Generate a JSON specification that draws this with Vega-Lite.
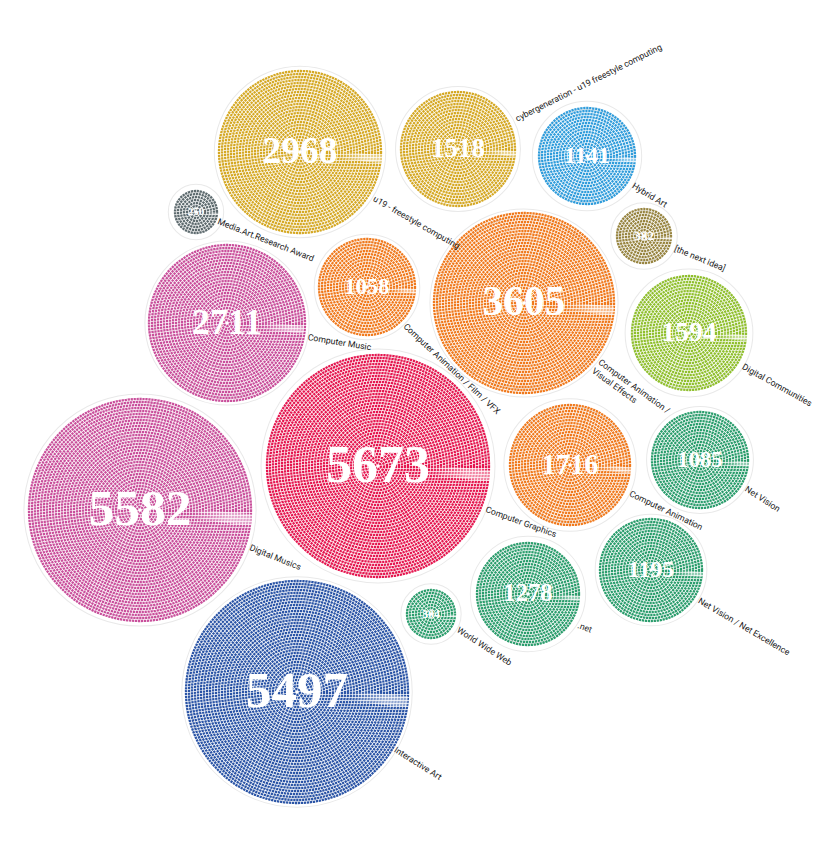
{"$schema":"https://vega.github.io/schema/vega-lite/v6.json","width":833,"height":852,"padding":0,"autosize":"none","background":"white","view":{"stroke":null},
"resolve":{"scale":{"size":"independent"}},
"data":{"values":[
{"label":"Computer Graphics","value":5673,"group":"Computer Graphics","cx":378,"cy":466,"ex":490.5,"ey":475.8,"lx":486,"ly":509,"a":20},
{"label":"Digital Musics","value":5582,"group":"Music","cx":140,"cy":510,"ex":251.5,"ey":519.8,"lx":250,"ly":547,"a":22},
{"label":"Interactive Art","value":5497,"group":"Interactive","cx":297,"cy":692,"ex":407.6,"ey":701.7,"lx":395,"ly":749,"a":32},
{"label":"Computer Animation /\nVisual Effects","value":3605,"group":"Animation","cx":524,"cy":303,"ex":613.7,"ey":310.8,"lx":599.5,"ly":361,"a":36},
{"label":"u19 - freestyle computing","value":2968,"group":"u19","cx":300,"cy":152,"ex":381.7,"ey":159.1,"lx":374,"ly":198,"a":29.7},
{"label":"Computer Music","value":2711,"group":"Music","cx":227,"cy":323,"ex":303.7,"ey":329.8,"lx":308,"ly":337,"a":9.3},
{"label":"Computer Animation","value":1716,"group":"Animation","cx":570,"cy":465,"ex":631.8,"ey":470.4,"lx":630,"ly":493,"a":25.6},
{"label":"Digital Communities","value":1594,"group":"Communities","cx":689,"cy":333,"ex":748.8,"ey":338.2,"lx":743,"ly":366,"a":29},
{"label":"cybergeneration - u19 freestyle computing","value":1518,"group":"u19","cx":458,"cy":149,"ex":515.8,"ey":154,"lx":516,"ly":119,"a":-26.6},
{"label":".net","value":1278,"group":"Net","cx":528,"cy":594,"ex":581.8,"ey":598.7,"lx":578,"ly":625,"a":20},
{"label":"Net Vision / Net Excellence","value":1195,"group":"Net","cx":651,"cy":570,"ex":702.8,"ey":574.5,"lx":699,"ly":600,"a":30.5},
{"label":"Hybrid Art","value":1141,"group":"Hybrid","cx":587,"cy":156,"ex":637.8,"ey":160.4,"lx":633,"ly":185,"a":31},
{"label":"Net Vision","value":1085,"group":"Net","cx":700,"cy":460,"ex":749.8,"ey":464.4,"lx":746,"ly":488,"a":33},
{"label":"Computer Animation / Film / VFX","value":1058,"group":"Animation","cx":367,"cy":287,"ex":415.8,"ey":291.3,"lx":405,"ly":325,"a":43},
{"label":"[the next idea]","value":382,"group":"Idea","cx":644,"cy":236,"ex":672.9,"ey":238.5,"lx":675,"ly":248,"a":22.5},
{"label":"World Wide Web","value":304,"group":"Net","cx":431,"cy":614,"ex":456.9,"ey":616.3,"lx":458,"ly":629,"a":33},
{"label":"Media.Art.Research Award","value":250,"group":"Research","cx":196,"cy":212,"ex":217.9,"ey":213.9,"lx":218,"ly":221,"a":21.6}
]},
"encoding":{
"x":{"field":"cx","type":"quantitative","scale":{"domain":[0,833]},"axis":null},
"y":{"field":"cy","type":"quantitative","scale":{"domain":[852,0]},"axis":null},
"color":{"field":"group","type":"nominal","legend":null,"scale":{"domain":["Computer Graphics","Music","Interactive","Animation","u19","Communities","Net","Hybrid","Idea","Research"],"range":["#e5164f","#c94f9b","#2a54a6","#f0791c","#d5a823","#8fbf2c","#2a9d6c","#2f9cdb","#97843f","#5d6a6e"]}}},
"layer":[
{"mark":{"type":"point","filled":false,"stroke":"#e9e9e9","strokeWidth":9,"opacity":1},
"encoding":{"color":{"value":"#e9e9e9"},"size":{"field":"value","type":"quantitative","scale":{"domain":[0,5673],"range":[0,51076]},"legend":null}}},
{"mark":{"type":"point","filled":false,"stroke":"white","strokeWidth":7,"opacity":1},
"encoding":{"color":{"value":"white"},"size":{"field":"value","type":"quantitative","scale":{"domain":[0,5673],"range":[0,51076]},"legend":null}}},
{"transform":[{"filter":"datum.value>=4"}],"mark":{"type":"point","filled":false,"opacity":1,"strokeWidth":2.3,"strokeDash":[2.3,0.7],"size":36}},
{"transform":[{"filter":"datum.value>=16"}],"mark":{"type":"point","filled":false,"opacity":1,"strokeWidth":2.3,"strokeDash":[2.3,0.7],"size":144}},
{"transform":[{"filter":"datum.value>=36"}],"mark":{"type":"point","filled":false,"opacity":1,"strokeWidth":2.3,"strokeDash":[2.3,0.7],"size":324}},
{"transform":[{"filter":"datum.value>=64"}],"mark":{"type":"point","filled":false,"opacity":1,"strokeWidth":2.3,"strokeDash":[2.3,0.7],"size":576}},
{"transform":[{"filter":"datum.value>=100"}],"mark":{"type":"point","filled":false,"opacity":1,"strokeWidth":2.3,"strokeDash":[2.3,0.7],"size":900}},
{"transform":[{"filter":"datum.value>=144"}],"mark":{"type":"point","filled":false,"opacity":1,"strokeWidth":2.3,"strokeDash":[2.3,0.7],"size":1296}},
{"transform":[{"filter":"datum.value>=196"}],"mark":{"type":"point","filled":false,"opacity":1,"strokeWidth":2.3,"strokeDash":[2.3,0.7],"size":1764}},
{"transform":[{"filter":"datum.value>=256"}],"mark":{"type":"point","filled":false,"opacity":1,"strokeWidth":2.3,"strokeDash":[2.3,0.7],"size":2304}},
{"transform":[{"filter":"datum.value>=324"}],"mark":{"type":"point","filled":false,"opacity":1,"strokeWidth":2.3,"strokeDash":[2.3,0.7],"size":2916}},
{"transform":[{"filter":"datum.value>=400"}],"mark":{"type":"point","filled":false,"opacity":1,"strokeWidth":2.3,"strokeDash":[2.3,0.7],"size":3600}},
{"transform":[{"filter":"datum.value>=484"}],"mark":{"type":"point","filled":false,"opacity":1,"strokeWidth":2.3,"strokeDash":[2.3,0.7],"size":4356}},
{"transform":[{"filter":"datum.value>=576"}],"mark":{"type":"point","filled":false,"opacity":1,"strokeWidth":2.3,"strokeDash":[2.3,0.7],"size":5184}},
{"transform":[{"filter":"datum.value>=676"}],"mark":{"type":"point","filled":false,"opacity":1,"strokeWidth":2.3,"strokeDash":[2.3,0.7],"size":6084}},
{"transform":[{"filter":"datum.value>=784"}],"mark":{"type":"point","filled":false,"opacity":1,"strokeWidth":2.3,"strokeDash":[2.3,0.7],"size":7056}},
{"transform":[{"filter":"datum.value>=900"}],"mark":{"type":"point","filled":false,"opacity":1,"strokeWidth":2.3,"strokeDash":[2.3,0.7],"size":8100}},
{"transform":[{"filter":"datum.value>=1024"}],"mark":{"type":"point","filled":false,"opacity":1,"strokeWidth":2.3,"strokeDash":[2.3,0.7],"size":9216}},
{"transform":[{"filter":"datum.value>=1156"}],"mark":{"type":"point","filled":false,"opacity":1,"strokeWidth":2.3,"strokeDash":[2.3,0.7],"size":10404}},
{"transform":[{"filter":"datum.value>=1296"}],"mark":{"type":"point","filled":false,"opacity":1,"strokeWidth":2.3,"strokeDash":[2.3,0.7],"size":11664}},
{"transform":[{"filter":"datum.value>=1444"}],"mark":{"type":"point","filled":false,"opacity":1,"strokeWidth":2.3,"strokeDash":[2.3,0.7],"size":12996}},
{"transform":[{"filter":"datum.value>=1600"}],"mark":{"type":"point","filled":false,"opacity":1,"strokeWidth":2.3,"strokeDash":[2.3,0.7],"size":14400}},
{"transform":[{"filter":"datum.value>=1764"}],"mark":{"type":"point","filled":false,"opacity":1,"strokeWidth":2.3,"strokeDash":[2.3,0.7],"size":15876}},
{"transform":[{"filter":"datum.value>=1936"}],"mark":{"type":"point","filled":false,"opacity":1,"strokeWidth":2.3,"strokeDash":[2.3,0.7],"size":17424}},
{"transform":[{"filter":"datum.value>=2116"}],"mark":{"type":"point","filled":false,"opacity":1,"strokeWidth":2.3,"strokeDash":[2.3,0.7],"size":19044}},
{"transform":[{"filter":"datum.value>=2304"}],"mark":{"type":"point","filled":false,"opacity":1,"strokeWidth":2.3,"strokeDash":[2.3,0.7],"size":20736}},
{"transform":[{"filter":"datum.value>=2500"}],"mark":{"type":"point","filled":false,"opacity":1,"strokeWidth":2.3,"strokeDash":[2.3,0.7],"size":22500}},
{"transform":[{"filter":"datum.value>=2704"}],"mark":{"type":"point","filled":false,"opacity":1,"strokeWidth":2.3,"strokeDash":[2.3,0.7],"size":24336}},
{"transform":[{"filter":"datum.value>=2916"}],"mark":{"type":"point","filled":false,"opacity":1,"strokeWidth":2.3,"strokeDash":[2.3,0.7],"size":26244}},
{"transform":[{"filter":"datum.value>=3136"}],"mark":{"type":"point","filled":false,"opacity":1,"strokeWidth":2.3,"strokeDash":[2.3,0.7],"size":28224}},
{"transform":[{"filter":"datum.value>=3364"}],"mark":{"type":"point","filled":false,"opacity":1,"strokeWidth":2.3,"strokeDash":[2.3,0.7],"size":30276}},
{"transform":[{"filter":"datum.value>=3600"}],"mark":{"type":"point","filled":false,"opacity":1,"strokeWidth":2.3,"strokeDash":[2.3,0.7],"size":32400}},
{"transform":[{"filter":"datum.value>=3844"}],"mark":{"type":"point","filled":false,"opacity":1,"strokeWidth":2.3,"strokeDash":[2.3,0.7],"size":34596}},
{"transform":[{"filter":"datum.value>=4096"}],"mark":{"type":"point","filled":false,"opacity":1,"strokeWidth":2.3,"strokeDash":[2.3,0.7],"size":36864}},
{"transform":[{"filter":"datum.value>=4356"}],"mark":{"type":"point","filled":false,"opacity":1,"strokeWidth":2.3,"strokeDash":[2.3,0.7],"size":39204}},
{"transform":[{"filter":"datum.value>=4624"}],"mark":{"type":"point","filled":false,"opacity":1,"strokeWidth":2.3,"strokeDash":[2.3,0.7],"size":41616}},
{"transform":[{"filter":"datum.value>=4900"}],"mark":{"type":"point","filled":false,"opacity":1,"strokeWidth":2.3,"strokeDash":[2.3,0.7],"size":44100}},
{"transform":[{"filter":"datum.value>=5184"}],"mark":{"type":"point","filled":false,"opacity":1,"strokeWidth":2.3,"strokeDash":[2.3,0.7],"size":46656}},
{"transform":[{"filter":"datum.value>=5476"}],"mark":{"type":"point","filled":false,"opacity":1,"strokeWidth":2.3,"strokeDash":[2.3,0.7],"size":49284}},
{"mark":{"type":"rule"},
"encoding":{"stroke":{"value":{"gradient":"linear","x1":0,"y1":0,"x2":1,"y2":0,"stops":[{"offset":0,"color":"rgba(255,255,255,0)"},{"offset":0.45,"color":"rgba(255,255,255,0)"},{"offset":0.8,"color":"rgba(255,255,255,0.5)"},{"offset":1,"color":"rgba(255,255,255,0.45)"}]}},"x2":{"field":"ex"},"y2":{"field":"ey"},"size":{"field":"value","type":"quantitative","scale":{"type":"sqrt","domain":[0,5673],"range":[0,11]},"legend":null}}},
{"mark":{"type":"text","font":"Liberation Serif","fontWeight":"bold","align":"center","baseline":"middle"},
"encoding":{"color":{"value":"white"},"text":{"field":"value","type":"quantitative","format":"d"},"size":{"field":"value","type":"quantitative","scale":{"type":"sqrt","domain":[0,5673],"range":[0,52]},"legend":null}}},
{"mark":{"type":"text","font":"Roboto","fontSize":8.7,"align":"left","baseline":"middle","lineBreak":"\n","lineHeight":11},
"encoding":{"color":{"value":"#1a1a1a"},"x":{"field":"lx","type":"quantitative"},"y":{"field":"ly","type":"quantitative"},"text":{"field":"label"},"angle":{"field":"a","type":"quantitative","scale":null}}}
]}
